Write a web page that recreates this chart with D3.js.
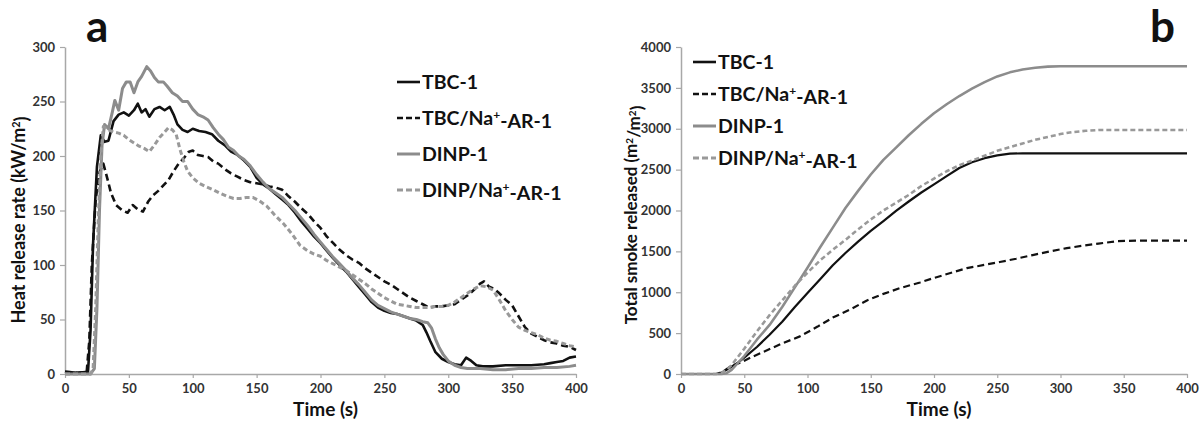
<!DOCTYPE html>
<html>
<head>
<meta charset="utf-8">
<script src="https://cdn.jsdelivr.net/npm/d3@7"></script>
<style>
  body { margin: 0; background: #fff; }
  svg { font-family: Lato, "Open Sans", sans-serif; }
</style>
</head>
<body>
<svg id="chart" width="1203" height="425"></svg>
<script>
// series names (legend order)
const seriesNames = ["TBC-1", "TBC/Na+-AR-1", "DINP-1", "DINP/Na+-AR-1"];
const timeTicks = [0, 50, 100, 150, 200, 250, 300, 350, 400];
const hrrTicks = [0, 50, 100, 150, 200, 250, 300];
const tsrTicks = [0, 500, 1000, 1500, 2000, 2500, 3000, 3500, 4000];

// heat release rate (kW/m2), [time s, value]
const hrrTBC = [[0,2],[10,1],[18,2],[20,40],[22,120],[25,190],[28,219],[31,213],[34,214],[38,232],[42,238],[46,240],[50,237],[54,242],[57,248],[60,240],[63,243],[66,236],[70,243],[74,245],[78,242],[82,245],[85,238],[88,229],[92,224],[96,222],[100,225],[105,223],[110,222],[115,220],[120,214],[125,210],[130,204],[135,201],[140,196],[145,190],[150,180],[155,174],[160,170],[165,165],[170,160],[175,155],[180,148],[185,140],[190,133],[195,126],[200,120],[205,113],[210,106],[215,100],[220,94],[225,87],[230,80],[235,73],[240,66],[245,61],[250,58],[255,56],[260,55],[265,53],[270,51],[275,49],[280,45],[283,38],[286,30],[290,20],[295,14],[300,11],[305,9],[310,8],[314,15],[318,12],[322,8],[327,7],[335,7],[345,8],[355,8],[365,8],[375,9],[380,10],[385,11],[390,12],[395,15],[400,16]];
const hrrTBCNa = [[0,2],[10,1],[17,2],[19,30],[21,100],[24,160],[27,185],[30,193],[33,180],[36,166],[40,155],[45,150],[49,148],[53,155],[57,151],[61,149],[65,158],[69,164],[73,168],[77,173],[81,178],[85,186],[89,193],[93,198],[97,204],[100,205],[104,201],[108,200],[112,199],[116,195],[120,193],[125,188],[130,184],[135,181],[140,178],[145,176],[150,175],[155,174],[160,172],[165,171],[170,169],[175,163],[180,158],[185,152],[190,147],[195,140],[200,134],[205,126],[210,120],[215,114],[220,109],[225,105],[230,102],[235,97],[240,93],[245,89],[250,85],[255,82],[260,78],[265,74],[270,70],[275,67],[280,64],[285,61],[290,62],[295,62],[300,63],[305,64],[310,68],[315,72],[320,77],[325,83],[328,85],[332,80],[336,78],[340,74],[345,68],[350,63],[355,53],[360,43],[365,37],[370,34],[375,31],[380,29],[385,28],[390,26],[395,25],[400,22]];
const hrrDINP = [[0,0],[20,0],[23,5],[25,60],[27,150],[29,210],[31,229],[34,225],[37,240],[39,251],[42,242],[45,262],[48,268],[51,268],[54,258],[57,268],[60,273],[64,282],[67,278],[70,272],[73,268],[77,268],[80,264],[84,258],[88,255],[92,250],[96,250],[100,243],[104,238],[108,236],[112,233],[116,226],[120,220],[124,215],[128,208],[132,205],[136,200],[140,197],[145,191],[150,183],[155,176],[160,170],[165,166],[170,162],[175,156],[180,150],[185,143],[190,136],[195,128],[200,121],[205,114],[210,107],[215,101],[220,95],[225,88],[230,82],[235,75],[240,68],[245,63],[250,60],[255,57],[260,55],[265,53],[270,51],[275,50],[280,48],[284,47],[287,42],[290,32],[293,24],[296,18],[300,12],[305,8],[310,6],[315,5],[325,5],[335,4],[345,4],[355,5],[365,5],[375,6],[385,6],[395,7],[400,8]];
const hrrDINPNa = [[0,0],[20,0],[22,5],[24,60],[26,140],[28,200],[30,227],[34,224],[38,222],[42,221],[46,219],[50,215],[54,212],[58,209],[62,207],[66,204],[70,210],[74,217],[78,222],[81,226],[84,224],[87,220],[90,206],[93,195],[96,186],[100,180],[105,175],[110,172],[116,169],[121,166],[127,163],[132,161],[137,161],[142,162],[147,162],[152,159],[158,154],[164,146],[171,138],[178,128],[184,118],[190,113],[195,110],[200,108],[205,104],[210,101],[215,98],[220,95],[225,91],[230,87],[235,83],[240,78],[245,74],[250,70],[255,67],[260,64],[265,63],[270,62],[275,61],[280,61],[285,61],[290,62],[295,62],[300,63],[305,66],[310,70],[315,74],[320,78],[325,81],[330,80],[335,77],[340,68],[345,58],[350,50],[355,43],[360,40],[365,38],[370,36],[375,33],[380,31],[385,30],[390,28],[395,26],[400,25]];

// total smoke released (m2/m2), [time s, value]
const tsrTBC = [[0,0],[28,0],[32,15],[36,50],[40,90],[45,140],[50,200],[60,330],[70,480],[80,640],[90,820],[100,990],[110,1160],[120,1330],[130,1480],[140,1620],[150,1750],[160,1870],[170,1995],[180,2110],[190,2220],[200,2320],[210,2420],[220,2520],[230,2590],[240,2640],[250,2675],[260,2695],[270,2700],[400,2700]];
const tsrTBCNa = [[0,0],[28,0],[32,20],[36,60],[40,100],[47,140],[55,200],[68,290],[80,375],[94,460],[108,580],[120,690],[135,800],[147,900],[160,980],[173,1050],[189,1120],[200,1175],[213,1235],[226,1295],[240,1335],[252,1370],[265,1410],[278,1455],[292,1500],[305,1540],[318,1570],[330,1595],[345,1625],[360,1632],[400,1632]];
const tsrDINP = [[0,0],[32,0],[36,10],[40,50],[50,220],[60,420],[70,600],[80,820],[90,1060],[100,1300],[110,1550],[120,1790],[130,2030],[140,2240],[150,2440],[160,2620],[170,2770],[180,2920],[190,3060],[200,3190],[210,3300],[220,3400],[230,3490],[240,3570],[250,3640],[260,3690],[270,3725],[280,3745],[290,3760],[300,3765],[400,3765]];
const tsrDINPNa = [[0,0],[28,0],[32,15],[36,50],[40,110],[50,310],[60,520],[70,720],[80,900],[90,1080],[100,1240],[110,1390],[120,1520],[130,1640],[140,1770],[150,1890],[160,2000],[170,2095],[180,2190],[190,2300],[200,2390],[210,2480],[220,2555],[230,2610],[240,2670],[250,2730],[260,2775],[270,2820],[280,2865],[290,2900],[300,2935],[310,2960],[320,2975],[330,2985],[340,2985],[400,2985]];

const styles = [
    { color: "#111", dash: null, width: 2.6 },
    { color: "#111", dash: "7,4", width: 2.6 },
    { color: "#8c8c8c", dash: null, width: 3 },
    { color: "#999", dash: "5,3", width: 3 }
];

const svg = d3.select("#chart");

function drawPanel(opts) {
    const x = d3.scaleLinear().domain([0, 400]).range(opts.xRange);
    const y = d3.scaleLinear().domain(opts.yDomain).range(opts.yRange);
    const g = svg.append("g");

    const xAxis = g.append("g")
        .attr("transform", `translate(0,${opts.yRange[0]})`)
        .call(d3.axisBottom(x).tickValues(timeTicks).tickSize(4).tickSizeOuter(0).tickPadding(6));
    const yAxis = g.append("g")
        .attr("transform", `translate(${opts.xRange[0]},0)`)
        .call(d3.axisLeft(y).tickValues(opts.yTicks).tickFormat(d3.format("d")).tickSize(5).tickSizeOuter(0).tickPadding(5));

    [xAxis, yAxis].forEach(a => {
        a.select(".domain").attr("stroke", "#a8a8a8").attr("stroke-width", 1.5);
        a.selectAll(".tick line").attr("stroke", "#a8a8a8").attr("stroke-width", 1.2);
        a.selectAll(".tick text")
            .attr("fill", "#333")
            .style("font-size", "13px")
            .style("font-weight", "bold")
            .style("font-family", "Lato, sans-serif");
    });

    const line = d3.line().x(d => x(d[0])).y(d => y(d[1]));

    opts.series.forEach((s, i) => {
        g.append("path")
            .datum(s)
            .attr("d", line)
            .attr("fill", "none")
            .attr("stroke", styles[i].color)
            .attr("stroke-width", opts.lineWidth * styles[i].width)
            .attr("stroke-dasharray", styles[i].dash)
            .attr("stroke-linejoin", "round");
    });

    // axis titles
    g.append("text")
        .attr("x", (opts.xRange[0] + opts.xRange[1]) / 2 + 5)
        .attr("y", 416)
        .attr("text-anchor", "middle")
        .style("font-size", "19px")
        .style("font-weight", "bold")
        .attr("fill", "#111")
        .text("Time (s)");

    const yl = g.append("text")
        .attr("transform", `translate(${opts.yLabelX},${opts.yLabelY}) rotate(-90)`)
        .attr("text-anchor", "middle")
        .style("font-size", opts.yLabelSize)
        .style("font-weight", "bold")
        .attr("fill", "#111");
    opts.yLabel(yl);

    // panel letter
    g.append("text")
        .attr("x", opts.letterX)
        .attr("y", 42)
        .style("font-size", "44px")
        .style("font-weight", "bold")
        .attr("fill", "#111")
        .text(opts.letter);

    // legend
    const leg = g.append("g").attr("transform", `translate(${opts.legX},${opts.legY})`);
    seriesNames.forEach((name, i) => {
        const row = leg.append("g").attr("transform", `translate(0,${i * opts.legStep})`);
        row.append("line")
            .attr("x1", 0).attr("x2", 23)
            .attr("stroke", styles[i].color)
            .attr("stroke-width", styles[i].width)
            .attr("stroke-dasharray", styles[i].dash ? "6,3" : null);
        const t = row.append("text")
            .attr("x", 25)
            .attr("dy", "0.35em")
            .style("font-size", "19.5px")
            .style("font-weight", "bold")
            .attr("fill", "#111");
        const parts = name.split("+");
        t.append("tspan").text(parts[0]);
        if (parts.length > 1) {
            t.append("tspan").attr("dy", "-0.45em").style("font-size", "12px").text("+");
            t.append("tspan").attr("dy", "0.45em").text(parts[1]);
        }
    });
}

drawPanel({
    xRange: [65, 576], yRange: [374, 47], yDomain: [0, 300], yTicks: hrrTicks,
    series: [hrrTBC, hrrTBCNa, hrrDINP, hrrDINPNa], lineWidth: 1,
    yLabelX: 25, yLabelY: 220, yLabelSize: "18px",
    yLabel: t => {
        t.append("tspan").text("Heat release rate (kW/m");
        t.append("tspan").attr("dy", "-0.45em").style("font-size", "11px").text("2");
        t.append("tspan").attr("dy", "0.45em").text(")");
    },
    letter: "a", letterX: 86,
    legX: 397, legY: 82, legStep: 36
});

drawPanel({
    xRange: [681, 1187], yRange: [374, 47], yDomain: [0, 4000], yTicks: tsrTicks,
    series: [tsrTBC, tsrTBCNa, tsrDINP, tsrDINPNa], lineWidth: 0.85,
    yLabelX: 637, yLabelY: 215, yLabelSize: "17px",
    yLabel: t => {
        t.append("tspan").text("Total smoke released (m");
        t.append("tspan").attr("dy", "-0.45em").style("font-size", "10px").text("2");
        t.append("tspan").attr("dy", "0.45em").text("/m");
        t.append("tspan").attr("dy", "-0.45em").style("font-size", "10px").text("2");
        t.append("tspan").attr("dy", "0.45em").text(")");
    },
    letter: "b", letterX: 1150,
    legX: 693, legY: 62, legStep: 32
});
</script>
</body>
</html>
